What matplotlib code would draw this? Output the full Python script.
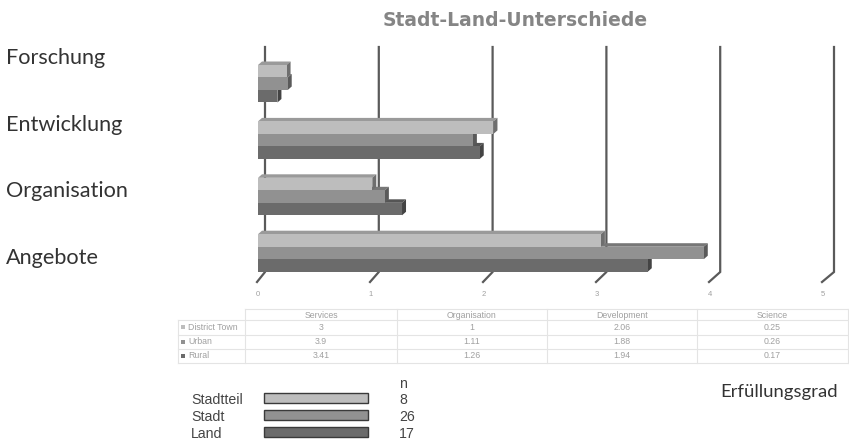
import matplotlib
matplotlib.use("Agg")
import matplotlib.pyplot as plt
from matplotlib.patches import Polygon, Rectangle
import numpy as np

# ---- data -------------------------------------------------------------
title = "Stadt-Land-Unterschiede"
categories = ["Forschung", "Entwicklung", "Organisation", "Angebote"]   # top to bottom
table_columns = ["Services", "Organisation", "Development", "Science"]
series_names = ["District Town", "Urban", "Rural"]
district_town = [3, 1, 2.06, 0.25]   # in table column order
urban = [3.9, 1.11, 1.88, 0.26]
rural = [3.41, 1.26, 1.94, 0.17]
x_ticks = [0, 1, 2, 3, 4, 5]
legend_labels = ["Stadtteil", "Stadt", "Land"]
legend_n = [8, 26, 17]
axis_caption = "Erfüllungsgrad"

# chart row -> table column (Forschung=Science ... Angebote=Services)
row_to_col = [3, 2, 1, 0]

front_cols = ["#bdbdbd", "#919191", "#6b6b6b"]
top_cols = ["#9a9a9a", "#777777", "#555555"]
side_cols = ["#6e6e6e", "#5a5a5a", "#444444"]

W, H, DPI = 849, 441, 100
fig = plt.figure(figsize=(W / DPI, H / DPI), dpi=DPI)

# overlay axes in pixel coordinates for texts, table and legend
ov = fig.add_axes([0, 0, 1, 1])
ov.set_xlim(0, W)
ov.set_ylim(H, 0)
ov.axis("off")

# chart axes: x in value units, y in pixel rows
x0_px, unit_px = 258, 114.3
y_top_px, y_bot_px = 40, 300
ax = fig.add_axes([x0_px / W, (H - y_bot_px) / H, 5 * unit_px / W, (y_bot_px - y_top_px) / H])
ax.set_xlim(0, 5)
ax.set_ylim(y_bot_px, y_top_px)
ax.axis("off")

px = 1.0 / unit_px          # one pixel in value units
bar_h = 12.5
group_top0, group_step = 65, 56.4
dx, dy = 4 * px, 3.5

# back-wall gridlines with slanted floor ticks
wall_top, wall_bot, floor_y = 47, 272, 282
for v in x_ticks:
    gx = v + 7 * px - v * 0.5 * px
    bx = v * (113 / unit_px) - 1 * px
    ax.plot([gx, gx, bx], [wall_top, wall_bot, floor_y], color="#5a5a5a",
            lw=1.6, solid_joinstyle="miter", zorder=1, clip_on=False)
    ov.text(x0_px + v * 113, 295, str(v), ha="center", va="center",
            fontsize=5.5, color="#a0a0a0", family="Liberation Sans")

# 3D-style horizontal bars
series_vals = [district_town, urban, rural]
for r, cat in enumerate(categories):
    c = row_to_col[r]
    gtop = group_top0 + r * group_step
    for s in (2, 1, 0):
        v = series_vals[s][c]
        top = gtop + s * bar_h
        bot = top + bar_h
        z = 3 + (2 - s) * 3
        # top face
        ax.add_patch(Polygon([(0, top), (dx, top - dy), (v + dx, top - dy), (v, top)],
                             closed=True, facecolor=top_cols[s], edgecolor="none", zorder=z))
        # side face
        ax.add_patch(Polygon([(v, top), (v + dx, top - dy), (v + dx, bot - dy), (v, bot)],
                             closed=True, facecolor=side_cols[s], edgecolor="none", zorder=z))
        # front face
        ax.barh(top + bar_h / 2, v, height=bar_h, left=0, color=front_cols[s],
                edgecolor="none", zorder=z + 1)

# category labels
cat_font = "Lato"
for r, cat in enumerate(categories):
    ov.text(6, 58 + r * 66.7, cat, ha="left", va="center", fontsize=15.6,
            color="#333333", family=cat_font)

# title
ov.text(515, 20, title, ha="center", va="center", fontsize=13.5, fontweight="bold",
        color="#858585", family="DejaVu Sans")

# data table
grid_c = "#e4e4e4"
tcol_x = [245, 397, 547, 697, 848]
row_lines = [309, 320, 335, 349, 363]
ov.plot([245, 848], [309, 309], color=grid_c, lw=0.8)
for yl in row_lines[1:]:
    ov.plot([178, 848], [yl, yl], color=grid_c, lw=0.8)
ov.plot([178, 178], [320, 363], color=grid_c, lw=0.8)
for xl in tcol_x:
    ov.plot([xl, xl], [309, 363], color=grid_c, lw=0.8)
tcol_c = [(tcol_x[i] + tcol_x[i + 1]) / 2 for i in range(4)]
tfs = 6.3
for i, name in enumerate(table_columns):
    ov.text(tcol_c[i], 315, name, ha="center", va="center", fontsize=tfs,
            color="#a0a0a0", family="Liberation Sans")
row_y = [327, 342, 356]
for s, name in enumerate(series_names):
    ov.add_patch(Rectangle((181, row_y[s] - 2), 4, 4, facecolor=front_cols[s], edgecolor="none"))
    ov.text(188, row_y[s], name, ha="left", va="center", fontsize=tfs,
            color="#a0a0a0", family="Liberation Sans")
    for i in range(4):
        ov.text(tcol_c[i], row_y[s], f"{series_vals[s][i]:g}", ha="center", va="center",
                fontsize=tfs, color="#a0a0a0", family="Liberation Sans")

# legend with group sizes
lfs = 10.2
ov.text(399, 384, "n", ha="left", va="center", fontsize=lfs, color="#444444",
        family="Liberation Sans")
leg_y = [398, 415, 432]
for s, lab in enumerate(legend_labels):
    ov.text(191, leg_y[s] + 2, lab, ha="left", va="center", fontsize=lfs,
            color="#444444", family="Liberation Sans")
    ov.add_patch(Rectangle((264, leg_y[s] - 5), 104, 10, facecolor=front_cols[s],
                           edgecolor="#3a3a3a", lw=1.0))
    ov.text(399, leg_y[s] + 2, str(legend_n[s]), ha="left", va="center", fontsize=lfs,
            color="#444444", family="Liberation Sans")

ov.text(720, 392, axis_caption, ha="left", va="center", fontsize=13.3,
        color="#333333", family=cat_font)

fig.savefig("out.png", dpi=DPI)
